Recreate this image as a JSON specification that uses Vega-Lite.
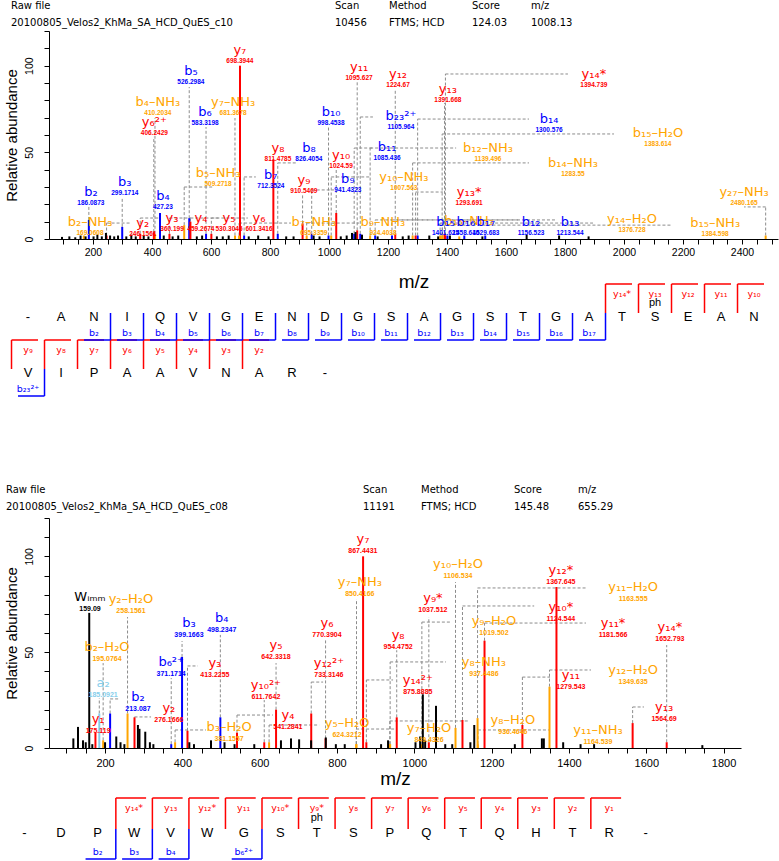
{
"$schema":"https://vega.github.io/schema/vega-lite/v6.json",
"padding":{"left":3,"top":0,"right":0,"bottom":0},
"spacing":0,
"bounds":"flush",
"config":{"view":{"stroke":null},"axis":{"grid":false,"domainColor":"#000000","tickColor":"#000000","labelColor":"#000000","titleColor":"#000000","labelFont":"Liberation Sans","titleFont":"Liberation Sans","titleFontWeight":"normal","tickSize":5,"labelOverlap":false,"labelFlush":false},"axisX":{"labelOverlap":false},"axisY":{"labelOverlap":false}},
"datasets":{
"h1":[{"x":10,"r":0,"s":"Raw file"},{"x":10,"r":1,"s":"20100805_Velos2_KhMa_SA_HCD_QuES_c10"},{"x":334,"r":0,"s":"Scan"},{"x":334,"r":1,"s":"10456"},{"x":388,"r":0,"s":"Method"},{"x":388,"r":1,"s":"FTMS; HCD"},{"x":471,"r":0,"s":"Score"},{"x":471,"r":1,"s":"124.03"},{"x":530,"r":0,"s":"m/z"},{"x":530,"r":1,"s":"1008.13"}],
"h2":[{"x":5,"r":0,"s":"Raw file"},{"x":5,"r":1,"s":"20100805_Velos2_KhMa_SA_HCD_QuES_c08"},{"x":362,"r":0,"s":"Scan"},{"x":362,"r":1,"s":"11191"},{"x":420,"r":0,"s":"Method"},{"x":420,"r":1,"s":"FTMS; HCD"},{"x":513,"r":0,"s":"Score"},{"x":513,"r":1,"s":"145.48"},{"x":577,"r":0,"s":"m/z"},{"x":577,"r":1,"s":"655.29"}],
"s1":[
{"mz":698.39,"int":100,"t":"y","lab":"y₇","num":"698.3944","lmz":698,"ly":109,"ltop":100,"lend":698.39},
{"mz":526.30,"int":12,"t":"b","lab":"b₅","num":"526.2984","lmz":532,"ly":97,"ltop":87.7,"lend":526.30},
{"mz":410.20,"int":3,"t":"loss","lab":"b₄–NH₃","num":"410.2034","lmz":420,"ly":79,"ltop":69.8,"lend":410.20},
{"mz":681.37,"int":2,"t":"loss","lab":"y₇–NH₃","num":"681.3678","lmz":675,"ly":79,"ltop":69.8,"lend":681.37},
{"mz":583.32,"int":3,"t":"b","lab":"b₆","num":"583.3198","lmz":580,"ly":73.3,"ltop":64.6,"lend":583.32},
{"mz":406.24,"int":4,"t":"y","lab":"y₆²⁺","num":"406.2429","lmz":408,"ly":67.5,"ltop":58.9,"lend":406.24},
{"mz":811.48,"int":46,"t":"y","lab":"y₈","num":"811.4785","lmz":827,"ly":52.5,"ltop":46,"lend":811.48},
{"mz":826.41,"int":3,"t":"b","lab":"b₈","num":"826.4054","lmz":932,"ly":52.5,"ltop":43.9,"lend":888},
{"mz":712.35,"int":2,"t":"b","lab":"b₇","num":"712.3524","lmz":803,"ly":36.9,"ltop":35.8,"lend":752},
{"mz":299.17,"int":7,"t":"b","lab":"b₃","num":"299.1714","lmz":308,"ly":32.9,"ltop":24.2,"lend":299.17},
{"mz":427.23,"int":15,"t":"b","lab":"b₄","num":"427.23","lmz":437,"ly":24.8,"ltop":15,"lend":427.23},
{"mz":186.09,"int":11,"t":"b","lab":"b₂","num":"186.0873","lmz":193,"ly":27.1,"ltop":18.5,"lend":186.09},
{"mz":169.06,"int":2,"t":"loss","lab":"b₂–NH₃","num":"169.0608","lmz":190,"ly":9.8,"ltop":2,"lend":169.06},
{"mz":246.16,"int":2,"t":"y","lab":"y₂","num":"246.1561","lmz":369,"ly":9.2,"ltop":9.2,"lend":325},
{"mz":360.20,"int":3,"t":"y","lab":"y₃","num":"360.199","lmz":468,"ly":12.1,"ltop":12.1,"lend":430},
{"mz":459.27,"int":3,"t":"y","lab":"y₄","num":"459.2674","lmz":566,"ly":12.1,"ltop":12.1,"lend":532},
{"mz":530.30,"int":10,"t":"y","lab":"y₅","num":"530.3045","lmz":661,"ly":12.1,"ltop":12.1,"lend":627},
{"mz":601.34,"int":3,"t":"y","lab":"y₆","num":"601.3416","lmz":763,"ly":12.1,"ltop":12.1,"lend":725},
{"mz":695.34,"int":2,"t":"loss","lab":"b₇–NH₃","num":"695.3359","lmz":949,"ly":9.8,"ltop":9.2,"lend":871},
{"mz":924.40,"int":2,"t":"loss","lab":"b₉–NH₃","num":"924.4038","lmz":1183,"ly":9.8,"ltop":9.2,"lend":1102},
{"mz":910.55,"int":9,"t":"y","lab":"y₉","num":"910.5469","lmz":915,"ly":34,"ltop":25.4,"lend":910.55},
{"mz":1024.59,"int":15,"t":"y","lab":"y₁₀","num":"1024.59","lmz":1041,"ly":48.5,"ltop":39.8,"lend":1024.59},
{"mz":941.43,"int":3,"t":"b","lab":"b₉","num":"941.4323","lmz":1064,"ly":34.6,"ltop":28.3,"lend":1017},
{"mz":998.45,"int":2,"t":"b","lab":"b₁₀","num":"998.4538","lmz":1007,"ly":73.3,"ltop":64.6,"lend":998.45},
{"mz":1095.63,"int":5,"t":"y","lab":"y₁₁","num":"1095.627","lmz":1102,"ly":99.2,"ltop":90.6,"lend":1095.63},
{"mz":1085.44,"int":3,"t":"b","lab":"b₁₁","num":"1085.436","lmz":1197,"ly":53.1,"ltop":52.5,"lend":1149},
{"mz":1007.56,"int":2,"t":"loss","lab":"y₁₀–NH₃","num":"1007.563","lmz":1254,"ly":35.8,"ltop":35.8,"lend":1142},
{"mz":1224.67,"int":3,"t":"y","lab":"y₁₂","num":"1224.67","lmz":1234,"ly":95.2,"ltop":86,"lend":1224.67},
{"mz":1391.67,"int":3,"t":"y","lab":"y₁₃","num":"1391.668","lmz":1403,"ly":86.6,"ltop":78.5,"lend":1391.67},
{"mz":1394.74,"int":2,"t":"y","lab":"y₁₄*","num":"1394.739","lmz":1898,"ly":95.2,"ltop":95.2,"lend":1810},
{"mz":1105.96,"int":3,"t":"b","lab":"b₂₃²⁺","num":"1105.964","lmz":1244,"ly":71,"ltop":70.4,"lend":1149},
{"mz":1300.58,"int":2,"t":"b","lab":"b₁₄","num":"1300.576","lmz":1746,"ly":69.2,"ltop":69.2,"lend":1678},
{"mz":1383.61,"int":2,"t":"loss","lab":"b₁₅–H₂O","num":"1383.614","lmz":2115,"ly":61.2,"ltop":60.6,"lend":1966},
{"mz":1139.50,"int":2,"t":"loss","lab":"b₁₂–NH₃","num":"1139.496","lmz":1539,"ly":52.5,"ltop":52.5,"lend":1431},
{"mz":1283.55,"int":2,"t":"loss","lab":"b₁₄–NH₃","num":"1283.55","lmz":1827,"ly":43.9,"ltop":43.9,"lend":1678},
{"mz":1293.69,"int":2,"t":"y","lab":"y₁₃*","num":"1293.691","lmz":1475,"ly":27.1,"ltop":27.1,"lend":1386},
{"mz":1441.62,"int":1.5,"t":"loss","lab":"b₁₆–NH₃","num":"","lmz":1475,"ly":10.5,"ltop":1.5,"lend":1441.62},
{"mz":1401.63,"int":2,"t":"b","lab":"b₁₅","num":"1401.625","lmz":1395,"ly":9.8,"ltop":2,"lend":1401.63},
{"mz":1458.65,"int":2,"t":"b","lab":"b₁₆","num":"1458.646","lmz":1464,"ly":9.8,"ltop":2,"lend":1458.65},
{"mz":1529.68,"int":2,"t":"b","lab":"b₁₇","num":"1529.683","lmz":1532,"ly":9.8,"ltop":2,"lend":1529.68},
{"mz":1156.52,"int":2,"t":"b","lab":"b₁₂","num":"1156.523","lmz":1685,"ly":9.8,"ltop":11,"lend":1641},
{"mz":1213.54,"int":2,"t":"b","lab":"b₁₃","num":"1213.544","lmz":1817,"ly":9.8,"ltop":11,"lend":1773},
{"mz":1376.73,"int":2,"t":"loss","lab":"y₁₄–H₂O","num":"1376.728","lmz":2027,"ly":11.5,"ltop":9.2,"lend":1895},
{"mz":1384.60,"int":2,"t":"loss","lab":"b₁₅–NH₃","num":"1384.598","lmz":2309,"ly":9.2,"ltop":8,"lend":2159},
{"mz":2480.17,"int":2,"t":"loss","lab":"y₂₇–NH₃","num":"2480.165","lmz":2407,"ly":27.1,"ltop":18.5,"lend":2407},
{"mz":509.27,"int":8,"t":"loss","lab":"b₅–NH₃","num":"509.2718","lmz":624,"ly":38.1,"ltop":30,"lend":610},
{"mz":95,"int":1.2,"t":"none"},{"mz":120,"int":1.5,"t":"none"},{"mz":140,"int":1,"t":"none"},{"mz":158,"int":2,"t":"none"},{"mz":175,"int":1.5,"t":"none"},{"mz":202,"int":1.5,"t":"none"},{"mz":215,"int":2.5,"t":"none"},{"mz":230,"int":1.5,"t":"none"},{"mz":244,"int":3.5,"t":"none"},{"mz":258,"int":2,"t":"none"},{"mz":272,"int":1.5,"t":"none"},{"mz":285,"int":2,"t":"none"},{"mz":313,"int":1.5,"t":"none"},{"mz":330,"int":2.5,"t":"none"},{"mz":345,"int":1.5,"t":"none"},{"mz":372,"int":2,"t":"none"},{"mz":388,"int":1.5,"t":"none"},{"mz":440,"int":2,"t":"none"},{"mz":470,"int":1.5,"t":"none"},{"mz":489,"int":2,"t":"none"},{"mz":552,"int":1.5,"t":"none"},{"mz":570,"int":2,"t":"none"},{"mz":620,"int":1.5,"t":"none"},{"mz":640,"int":1.5,"t":"none"},{"mz":660,"int":2,"t":"none"},{"mz":728,"int":1.5,"t":"none"},{"mz":760,"int":2,"t":"none"},{"mz":795,"int":1.5,"t":"none"},{"mz":855,"int":1.5,"t":"none"},{"mz":880,"int":1.5,"t":"none"},{"mz":948,"int":2,"t":"none"},{"mz":968,"int":1.5,"t":"none"},{"mz":1040,"int":1.5,"t":"none"},{"mz":1060,"int":2,"t":"none"},{"mz":1078,"int":3.5,"t":"none"},{"mz":1090,"int":4,"t":"none"},{"mz":1112,"int":2.5,"t":"none"},{"mz":1165,"int":1.5,"t":"none"},{"mz":1250,"int":1.5,"t":"none"},{"mz":1270,"int":2,"t":"none"},{"mz":1340,"int":2,"t":"none"},{"mz":1370,"int":1.5,"t":"none"},{"mz":1410,"int":2,"t":"none"},{"mz":1520,"int":1.5,"t":"none"},{"mz":1670,"int":2.5,"t":"none"},{"mz":1780,"int":2,"t":"none"},{"mz":1880,"int":1.5,"t":"none"}
],
"s2":[
{"mz":159.09,"int":70.5,"t":"imm","lab":"Wᵢₘₘ","num":"159.09","lmz":161,"ly":78.8,"ltop":70.5,"lend":159.09},
{"mz":258.16,"int":18,"t":"loss","lab":"y₂–H₂O","num":"258.1561","lmz":267,"ly":77.7,"ltop":68.3,"lend":258.16},
{"mz":195.08,"int":4,"t":"loss","lab":"b₂–H₂O","num":"195.0764","lmz":205,"ly":52.7,"ltop":44.3,"lend":195.08},
{"mz":185.09,"int":18,"t":"a","lab":"a₂","num":"185.0921","lmz":195,"ly":33.9,"ltop":26.1,"lend":185.09},
{"mz":213.09,"int":18,"t":"b","lab":"b₂","num":"213.087","lmz":285,"ly":26.6,"ltop":25.6,"lend":236},
{"mz":175.12,"int":8,"t":"y","lab":"y₁","num":"175.119","lmz":182,"ly":15.1,"ltop":8,"lend":175.12},
{"mz":371.17,"int":2,"t":"b","lab":"b₆²⁺","num":"371.1714","lmz":371,"ly":44.9,"ltop":36.5,"lend":371.17},
{"mz":399.17,"int":47.5,"t":"b","lab":"b₃","num":"399.1663","lmz":417,"ly":65.2,"ltop":55.8,"lend":399.17},
{"mz":498.23,"int":16,"t":"b","lab":"b₄","num":"498.2347","lmz":502,"ly":67.8,"ltop":59,"lend":498.23},
{"mz":413.23,"int":9,"t":"y","lab":"y₃","num":"413.2255","lmz":484,"ly":44.3,"ltop":42.8,"lend":440},
{"mz":276.17,"int":16,"t":"y","lab":"y₂","num":"276.1666","lmz":365,"ly":20.9,"ltop":16.2,"lend":319},
{"mz":381.16,"int":3,"t":"loss","lab":"b₃–H₂O","num":"381.1557","lmz":521,"ly":11,"ltop":9.4,"lend":461},
{"mz":611.76,"int":3,"t":"y","lab":"y₁₀²⁺","num":"611.7642","lmz":616,"ly":32.9,"ltop":25,"lend":611.76},
{"mz":541.28,"int":8,"t":"y","lab":"y₄","num":"541.2841","lmz":673,"ly":17.2,"ltop":17.2,"lend":634},
{"mz":642.33,"int":20,"t":"y","lab":"y₅","num":"642.3318","lmz":642,"ly":53.7,"ltop":44.3,"lend":642.33},
{"mz":770.39,"int":5,"t":"y","lab":"y₆","num":"770.3904","lmz":774,"ly":65.2,"ltop":56.3,"lend":770.39},
{"mz":733.31,"int":18,"t":"y","lab":"y₁₂²⁺","num":"733.3146","lmz":779,"ly":44.3,"ltop":34.4,"lend":764},
{"mz":867.44,"int":100,"t":"y","lab":"y₇","num":"867.4431","lmz":867,"ly":109,"ltop":100,"lend":867.44},
{"mz":850.42,"int":2,"t":"loss","lab":"y₇–NH₃","num":"850.4166","lmz":859,"ly":86.6,"ltop":77.7,"lend":850.42},
{"mz":624.32,"int":3,"t":"loss","lab":"y₅–H₂O","num":"624.3212","lmz":826,"ly":13,"ltop":12,"lend":754},
{"mz":954.48,"int":16,"t":"y","lab":"y₈","num":"954.4752","lmz":958,"ly":59,"ltop":51,"lend":954.48},
{"mz":937.45,"int":2,"t":"loss","lab":"y₈–NH₃","num":"937.4486","lmz":1180,"ly":44.9,"ltop":44.9,"lend":1082},
{"mz":875.89,"int":3,"t":"y","lab":"y₁₄²⁺","num":"875.8885","lmz":1009,"ly":35.5,"ltop":35.5,"lend":945},
{"mz":1037.51,"int":3,"t":"y","lab":"y₉*","num":"1037.512","lmz":1048,"ly":78.3,"ltop":68.3,"lend":1037.51},
{"mz":1106.53,"int":10.5,"t":"loss","lab":"y₁₀–H₂O","num":"1106.534","lmz":1113,"ly":96,"ltop":86.6,"lend":1106.53},
{"mz":1367.65,"int":84,"t":"y","lab":"y₁₂*","num":"1367.645","lmz":1379,"ly":92.9,"ltop":84,"lend":1367.65},
{"mz":1124.54,"int":14.6,"t":"y","lab":"y₁₀*","num":"1124.544","lmz":1379,"ly":73.6,"ltop":74.1,"lend":1310},
{"mz":1019.50,"int":2,"t":"loss","lab":"y₉–H₂O","num":"1019.502","lmz":1206,"ly":66.3,"ltop":65.7,"lend":1095},
{"mz":1279.54,"int":12,"t":"y","lab":"y₁₁","num":"1279.543","lmz":1405,"ly":38.1,"ltop":37,"lend":1351},
{"mz":1349.64,"int":32,"t":"loss","lab":"y₁₂–H₂O","num":"1349.635","lmz":1566,"ly":40.7,"ltop":40.7,"lend":1457},
{"mz":1163.56,"int":15.6,"t":"loss","lab":"y₁₁–H₂O","num":"1163.555","lmz":1566,"ly":84,"ltop":83.5,"lend":1444},
{"mz":1181.57,"int":56,"t":"y","lab":"y₁₁*","num":"1181.566","lmz":1514,"ly":65.2,"ltop":65.2,"lend":1444},
{"mz":1652.79,"int":3,"t":"y","lab":"y₁₄*","num":"1652.793","lmz":1661,"ly":63.1,"ltop":53.7,"lend":1652.79},
{"mz":1564.69,"int":13,"t":"y","lab":"y₁₃","num":"1564.69","lmz":1646,"ly":21.4,"ltop":21.4,"lend":1594},
{"mz":1164.54,"int":2,"t":"loss","lab":"y₁₁–NH₃","num":"1164.539","lmz":1475,"ly":9.4,"ltop":9.4,"lend":1348},
{"mz":936.46,"int":2,"t":"loss","lab":"y₈–H₂O","num":"936.4646","lmz":1255,"ly":14.6,"ltop":14.1,"lend":1139},
{"mz":849.43,"int":2,"t":"loss","lab":"y₇–H₂O","num":"849.4326","lmz":1038,"ly":10.4,"ltop":9.9,"lend":953},
{"mz":118,"int":5,"t":"none"},{"mz":130,"int":11,"t":"none"},{"mz":143,"int":4,"t":"none"},{"mz":150,"int":3,"t":"none"},{"mz":167,"int":2,"t":"none"},{"mz":200,"int":3,"t":"none"},{"mz":229,"int":6,"t":"none"},{"mz":240,"int":3,"t":"none"},{"mz":250,"int":2,"t":"none"},{"mz":285,"int":12,"t":"none"},{"mz":289,"int":10,"t":"none"},{"mz":304,"int":8.5,"t":"none"},{"mz":316,"int":3,"t":"none"},{"mz":325,"int":2,"t":"none"},{"mz":418,"int":3,"t":"none"},{"mz":430,"int":2,"t":"none"},{"mz":474,"int":4,"t":"none"},{"mz":509,"int":3,"t":"none"},{"mz":535,"int":2,"t":"none"},{"mz":586,"int":2,"t":"none"},{"mz":655,"int":4,"t":"none"},{"mz":681,"int":5,"t":"none"},{"mz":702,"int":4.5,"t":"none"},{"mz":733,"int":4,"t":"none"},{"mz":771,"int":5.5,"t":"none"},{"mz":797,"int":2,"t":"none"},{"mz":820,"int":2,"t":"none"},{"mz":914,"int":2,"t":"none"},{"mz":932,"int":4,"t":"none"},{"mz":1003,"int":3,"t":"none"},{"mz":1015,"int":6,"t":"none"},{"mz":1022,"int":28,"t":"none"},{"mz":1028,"int":4,"t":"none"},{"mz":1056,"int":22,"t":"none"},{"mz":1080,"int":2,"t":"none"},{"mz":1098,"int":2,"t":"none"},{"mz":1145,"int":3,"t":"none"},{"mz":1155,"int":12,"t":"none"},{"mz":1260,"int":2,"t":"none"},{"mz":1330,"int":5,"t":"none"},{"mz":1335,"int":5,"t":"none"},{"mz":1385,"int":3,"t":"none"},{"mz":1430,"int":2,"t":"none"},{"mz":1465,"int":2,"t":"none"},{"mz":1745,"int":1.5,"t":"none"}
],
"m1":[
{"k":"aa","r":0,"i":0,"s":"-"},{"k":"aa","r":0,"i":1,"s":"A"},{"k":"aa","r":0,"i":2,"s":"N"},{"k":"aa","r":0,"i":3,"s":"I"},{"k":"aa","r":0,"i":4,"s":"Q"},{"k":"aa","r":0,"i":5,"s":"V"},{"k":"aa","r":0,"i":6,"s":"G"},{"k":"aa","r":0,"i":7,"s":"E"},{"k":"aa","r":0,"i":8,"s":"N"},{"k":"aa","r":0,"i":9,"s":"D"},{"k":"aa","r":0,"i":10,"s":"G"},{"k":"aa","r":0,"i":11,"s":"S"},{"k":"aa","r":0,"i":12,"s":"A"},{"k":"aa","r":0,"i":13,"s":"G"},{"k":"aa","r":0,"i":14,"s":"S"},{"k":"aa","r":0,"i":15,"s":"T"},{"k":"aa","r":0,"i":16,"s":"G"},{"k":"aa","r":0,"i":17,"s":"A"},{"k":"aa","r":0,"i":18,"s":"T"},{"k":"aa","r":0,"i":19,"s":"S"},{"k":"aa","r":0,"i":20,"s":"E"},{"k":"aa","r":0,"i":21,"s":"A"},{"k":"aa","r":0,"i":22,"s":"N"},
{"k":"aa","r":1,"i":0,"s":"V"},{"k":"aa","r":1,"i":1,"s":"I"},{"k":"aa","r":1,"i":2,"s":"P"},{"k":"aa","r":1,"i":3,"s":"A"},{"k":"aa","r":1,"i":4,"s":"A"},{"k":"aa","r":1,"i":5,"s":"V"},{"k":"aa","r":1,"i":6,"s":"N"},{"k":"aa","r":1,"i":7,"s":"A"},{"k":"aa","r":1,"i":8,"s":"R"},{"k":"aa","r":1,"i":9,"s":"-"},
{"k":"y","r":0,"i":18,"s":"y₁₄*"},{"k":"y","r":0,"i":19,"s":"y₁₃","ph":"ph"},{"k":"y","r":0,"i":20,"s":"y₁₂"},{"k":"y","r":0,"i":21,"s":"y₁₁"},{"k":"y","r":0,"i":22,"s":"y₁₀"},
{"k":"y","r":1,"i":0,"s":"y₉"},{"k":"y","r":1,"i":1,"s":"y₈"},{"k":"y","r":1,"i":2,"s":"y₇"},{"k":"y","r":1,"i":3,"s":"y₆"},{"k":"y","r":1,"i":4,"s":"y₅"},{"k":"y","r":1,"i":5,"s":"y₄"},{"k":"y","r":1,"i":6,"s":"y₃"},{"k":"y","r":1,"i":7,"s":"y₂"},
{"k":"b","r":0,"i":2,"s":"b₂"},{"k":"b","r":0,"i":3,"s":"b₃"},{"k":"b","r":0,"i":4,"s":"b₄"},{"k":"b","r":0,"i":5,"s":"b₅"},{"k":"b","r":0,"i":6,"s":"b₆"},{"k":"b","r":0,"i":7,"s":"b₇"},{"k":"b","r":0,"i":8,"s":"b₈"},{"k":"b","r":0,"i":9,"s":"b₉"},{"k":"b","r":0,"i":10,"s":"b₁₀"},{"k":"b","r":0,"i":11,"s":"b₁₁"},{"k":"b","r":0,"i":12,"s":"b₁₂"},{"k":"b","r":0,"i":13,"s":"b₁₃"},{"k":"b","r":0,"i":14,"s":"b₁₄"},{"k":"b","r":0,"i":15,"s":"b₁₅"},{"k":"b","r":0,"i":16,"s":"b₁₆"},{"k":"b","r":0,"i":17,"s":"b₁₇"},
{"k":"b","r":1,"i":0,"s":"b₂₃²⁺"}
],
"m2":[
{"k":"aa","r":0,"i":0,"s":"-"},{"k":"aa","r":0,"i":1,"s":"D"},{"k":"aa","r":0,"i":2,"s":"P"},{"k":"aa","r":0,"i":3,"s":"W"},{"k":"aa","r":0,"i":4,"s":"V"},{"k":"aa","r":0,"i":5,"s":"W"},{"k":"aa","r":0,"i":6,"s":"G"},{"k":"aa","r":0,"i":7,"s":"S"},{"k":"aa","r":0,"i":8,"s":"T"},{"k":"aa","r":0,"i":9,"s":"S"},{"k":"aa","r":0,"i":10,"s":"P"},{"k":"aa","r":0,"i":11,"s":"Q"},{"k":"aa","r":0,"i":12,"s":"T"},{"k":"aa","r":0,"i":13,"s":"Q"},{"k":"aa","r":0,"i":14,"s":"H"},{"k":"aa","r":0,"i":15,"s":"T"},{"k":"aa","r":0,"i":16,"s":"R"},{"k":"aa","r":0,"i":17,"s":"-"},
{"k":"y","r":0,"i":3,"s":"y₁₄*"},{"k":"y","r":0,"i":4,"s":"y₁₃"},{"k":"y","r":0,"i":5,"s":"y₁₂*"},{"k":"y","r":0,"i":6,"s":"y₁₁"},{"k":"y","r":0,"i":7,"s":"y₁₀*"},{"k":"y","r":0,"i":8,"s":"y₉*","ph":"ph"},{"k":"y","r":0,"i":9,"s":"y₈"},{"k":"y","r":0,"i":10,"s":"y₇"},{"k":"y","r":0,"i":11,"s":"y₆"},{"k":"y","r":0,"i":12,"s":"y₅"},{"k":"y","r":0,"i":13,"s":"y₄"},{"k":"y","r":0,"i":14,"s":"y₃"},{"k":"y","r":0,"i":15,"s":"y₂"},{"k":"y","r":0,"i":16,"s":"y₁"},
{"k":"b","r":0,"i":2,"s":"b₂"},{"k":"b","r":0,"i":3,"s":"b₃"},{"k":"b","r":0,"i":4,"s":"b₄"},{"k":"b","r":0,"i":6,"s":"b₆²⁺"}
]
},
"vconcat":[
{"width":731,"height":31,"data":{"name":"h1"},
 "mark":{"type":"text","align":"left","baseline":"middle","font":"DejaVu Sans","fontSize":10,"color":"#000000"},
 "encoding":{"x":{"field":"x","type":"quantitative","scale":{"domain":[48,779],"nice":false,"zero":false},"axis":null},"y":{"field":"r","type":"quantitative","scale":{"domain":[0,1],"range":[6,23],"nice":false},"axis":null},"text":{"field":"s"}}},
{"width":729,"height":208,"data":{"name":"s1"},
 "encoding":{
   "x":{"field":"mz","type":"quantitative","title":"m/z","scale":{"domain":[51,2522],"nice":false,"zero":false},"axis":{"values":[100,150,200,250,300,350,400,450,500,550,600,650,700,750,800,850,900,950,1000,1050,1100,1150,1200,1250,1300,1350,1400,1450,1500,1550,1600,1650,1700,1750,1800,1850,1900,1950,2000,2050,2100,2150,2200,2250,2300,2350,2400,2450,2500],"labelExpr":"datum.value % 200 === 0 ? datum.label : ''","format":"d","labelFontSize":10.5,"labelPadding":3,"titleFontSize":19,"titlePadding":15,"labelOverlap":false,"labelFlush":false}},
   "y":{"field":"int","type":"quantitative","title":"Relative abundance","scale":{"domain":[0,120],"nice":false},"axis":{"values":[0,10,20,30,40,50,60,70,80,90,100,110,120],"labelExpr":"datum.value % 50 === 0 ? datum.label : ''","labelAngle":-90,"labelAlign":"center","labelBaseline":"bottom","labelPadding":10,"labelFontSize":10.5,"titleFontSize":15,"titlePadding":5,"labelOverlap":false,"labelFlush":false}},
   "color":{"field":"t","type":"nominal","scale":{"domain":["b","y","loss","a","imm","none"],"range":["#0000FF","#FF0000","#FFA500","#87CEEB","#000000","#000000"]},"legend":null}},
 "layer":[
  {"transform":[{"filter":"isValid(datum.lab)"}],"mark":{"type":"rule","color":"#8c8c8c","strokeDash":[3,2],"strokeWidth":1},
   "encoding":{"y2":{"field":"ltop"},"color":{"value":"#8c8c8c"}}},
  {"transform":[{"filter":"isValid(datum.lab)"}],"mark":{"type":"rule","color":"#8c8c8c","strokeDash":[3,2],"strokeWidth":1},
   "encoding":{"x2":{"field":"lend"},"y":{"field":"ltop","type":"quantitative","title":"Relative abundance"},"color":{"value":"#8c8c8c"}}},
  {"mark":{"type":"rule","strokeWidth":2},
   "encoding":{"y2":{"datum":0}}},
  {"transform":[{"filter":"isValid(datum.lab)"}],"mark":{"type":"text","font":"DejaVu Sans","fontSize":13,"baseline":"middle"},
   "encoding":{"x":{"field":"lmz","type":"quantitative","title":"m/z"},"y":{"field":"ly","type":"quantitative","title":"Relative abundance"},"text":{"field":"lab"}}},
  {"transform":[{"filter":"isValid(datum.lab)"}],"mark":{"type":"text","font":"Liberation Sans","fontWeight":"bold","fontSize":6.5,"baseline":"middle","dy":11},
   "encoding":{"x":{"field":"lmz","type":"quantitative","title":"m/z"},"y":{"field":"ly","type":"quantitative","title":"Relative abundance"},"text":{"field":"num"}}}
 ]},
{"width":729,"height":241,"data":{"name":"m1"},
 "encoding":{"x":{"field":"i","type":"quantitative","scale":{"domain":[0.636,22.727],"nice":false,"zero":false},"axis":null},"y":{"field":"r","type":"quantitative","scale":{"domain":[0,1],"range":[78,134],"nice":false},"axis":null}},
 "layer":[
  {"transform":[{"filter":"datum.k === 'aa'"}],"mark":{"type":"text","font":"Liberation Sans","fontSize":13,"baseline":"middle","color":"#000000"},"encoding":{"text":{"field":"s"}}},
  {"transform":[{"filter":"datum.k === 'y'"}],"mark":{"type":"rule","color":"#FF0000","strokeWidth":1.5,"xOffset":-16.5,"yOffset":-33,"y2Offset":-4},"encoding":{"y2":{"field":"r"}}},
  {"transform":[{"filter":"datum.k === 'y'"}],"mark":{"type":"rule","color":"#FF0000","strokeWidth":1.5,"xOffset":-16.5,"x2Offset":10,"yOffset":-33},"encoding":{"x2":{"field":"i"}}},
  {"transform":[{"filter":"datum.k === 'y'"}],"mark":{"type":"text","font":"DejaVu Sans","fontSize":9.5,"baseline":"middle","color":"#FF0000","dy":-23},"encoding":{"text":{"field":"s"}}},
  {"transform":[{"filter":"isValid(datum.ph)"}],"mark":{"type":"text","font":"Liberation Sans","fontSize":11,"baseline":"middle","color":"#000000","dy":-14},"encoding":{"text":{"field":"ph"}}},
  {"transform":[{"filter":"datum.k === 'b'"}],"mark":{"type":"rule","color":"#0000FF","strokeWidth":1.5,"xOffset":16.5,"yOffset":-4,"y2Offset":23},"encoding":{"y2":{"field":"r"}}},
  {"transform":[{"filter":"datum.k === 'b'"}],"mark":{"type":"rule","color":"#0000FF","strokeWidth":1.5,"xOffset":-10,"x2Offset":16.5,"yOffset":23},"encoding":{"x2":{"field":"i"}}},
  {"transform":[{"filter":"datum.k === 'b'"}],"mark":{"type":"text","font":"DejaVu Sans","fontSize":9.5,"baseline":"middle","color":"#0000FF","dy":16},"encoding":{"text":{"field":"s"}}}
 ]},
{"width":731,"height":38,"data":{"name":"h2"},
 "mark":{"type":"text","align":"left","baseline":"middle","font":"DejaVu Sans","fontSize":10,"color":"#000000"},
 "encoding":{"x":{"field":"x","type":"quantitative","scale":{"domain":[48,779],"nice":false,"zero":false},"axis":null},"y":{"field":"r","type":"quantitative","scale":{"domain":[0,1],"range":[10,27],"nice":false},"axis":null},"text":{"field":"s"}}},
{"width":692,"height":230,"data":{"name":"s2"},
 "encoding":{
   "x":{"field":"mz","type":"quantitative","title":"m/z","scale":{"domain":[55,1845],"nice":false,"zero":false},"axis":{"values":[100,150,200,250,300,350,400,450,500,550,600,650,700,750,800,850,900,950,1000,1050,1100,1150,1200,1250,1300,1350,1400,1450,1500,1550,1600,1650,1700,1750,1800],"labelExpr":"datum.value % 200 === 0 ? datum.label : ''","format":"d","labelFontSize":11,"labelPadding":4,"titleFontSize":19,"titlePadding":1,"labelOverlap":false,"labelFlush":false}},
   "y":{"field":"int","type":"quantitative","title":"Relative abundance","scale":{"domain":[0,120],"nice":false},"axis":{"values":[0,10,20,30,40,50,60,70,80,90,100,110,120],"labelExpr":"datum.value % 50 === 0 ? datum.label : ''","labelAngle":-90,"labelAlign":"center","labelBaseline":"bottom","labelPadding":10,"labelFontSize":10.5,"titleFontSize":15,"titlePadding":5,"labelOverlap":false,"labelFlush":false}},
   "color":{"field":"t","type":"nominal","scale":{"domain":["b","y","loss","a","imm","none"],"range":["#0000FF","#FF0000","#FFA500","#87CEEB","#000000","#000000"]},"legend":null}},
 "layer":[
  {"transform":[{"filter":"isValid(datum.lab)"}],"mark":{"type":"rule","color":"#8c8c8c","strokeDash":[3,2],"strokeWidth":1},
   "encoding":{"y2":{"field":"ltop"},"color":{"value":"#8c8c8c"}}},
  {"transform":[{"filter":"isValid(datum.lab)"}],"mark":{"type":"rule","color":"#8c8c8c","strokeDash":[3,2],"strokeWidth":1},
   "encoding":{"x2":{"field":"lend"},"y":{"field":"ltop","type":"quantitative","title":"Relative abundance"},"color":{"value":"#8c8c8c"}}},
  {"mark":{"type":"rule","strokeWidth":2},
   "encoding":{"y2":{"datum":0}}},
  {"transform":[{"filter":"isValid(datum.lab)"}],"mark":{"type":"text","font":"DejaVu Sans","fontSize":13,"baseline":"middle"},
   "encoding":{"x":{"field":"lmz","type":"quantitative","title":"m/z"},"y":{"field":"ly","type":"quantitative","title":"Relative abundance"},"text":{"field":"lab"}}},
  {"transform":[{"filter":"isValid(datum.lab)"}],"mark":{"type":"text","font":"Liberation Sans","fontWeight":"bold","fontSize":7,"baseline":"middle","dy":12},
   "encoding":{"x":{"field":"lmz","type":"quantitative","title":"m/z"},"y":{"field":"ly","type":"quantitative","title":"Relative abundance"},"text":{"field":"num"}}}
 ]},
{"width":692,"height":113,"data":{"name":"m2"},
 "encoding":{"x":{"field":"i","type":"quantitative","scale":{"domain":[0.671,19.61],"nice":false,"zero":false},"axis":null},"y":{"field":"r","type":"quantitative","scale":{"domain":[0,1],"range":[85,141],"nice":false},"axis":null}},
 "layer":[
  {"transform":[{"filter":"datum.k === 'aa'"}],"mark":{"type":"text","font":"Liberation Sans","fontSize":13,"baseline":"middle","color":"#000000"},"encoding":{"text":{"field":"s"}}},
  {"transform":[{"filter":"datum.k === 'y'"}],"mark":{"type":"rule","color":"#FF0000","strokeWidth":1.5,"xOffset":-18.25,"yOffset":-35,"y2Offset":-4},"encoding":{"y2":{"field":"r"}}},
  {"transform":[{"filter":"datum.k === 'y'"}],"mark":{"type":"rule","color":"#FF0000","strokeWidth":1.5,"xOffset":-18.25,"x2Offset":12,"yOffset":-35},"encoding":{"x2":{"field":"i"}}},
  {"transform":[{"filter":"datum.k === 'y'"}],"mark":{"type":"text","font":"DejaVu Sans","fontSize":9.5,"baseline":"middle","color":"#FF0000","dy":-25},"encoding":{"text":{"field":"s"}}},
  {"transform":[{"filter":"isValid(datum.ph)"}],"mark":{"type":"text","font":"Liberation Sans","fontSize":11,"baseline":"middle","color":"#000000","dy":-15},"encoding":{"text":{"field":"ph"}}},
  {"transform":[{"filter":"datum.k === 'b'"}],"mark":{"type":"rule","color":"#0000FF","strokeWidth":1.5,"xOffset":18.25,"yOffset":-4,"y2Offset":26},"encoding":{"y2":{"field":"r"}}},
  {"transform":[{"filter":"datum.k === 'b'"}],"mark":{"type":"rule","color":"#0000FF","strokeWidth":1.5,"xOffset":-12,"x2Offset":18.25,"yOffset":26},"encoding":{"x2":{"field":"i"}}},
  {"transform":[{"filter":"datum.k === 'b'"}],"mark":{"type":"text","font":"DejaVu Sans","fontSize":9.5,"baseline":"middle","color":"#0000FF","dy":19},"encoding":{"text":{"field":"s"}}}
 ]}
]
}
